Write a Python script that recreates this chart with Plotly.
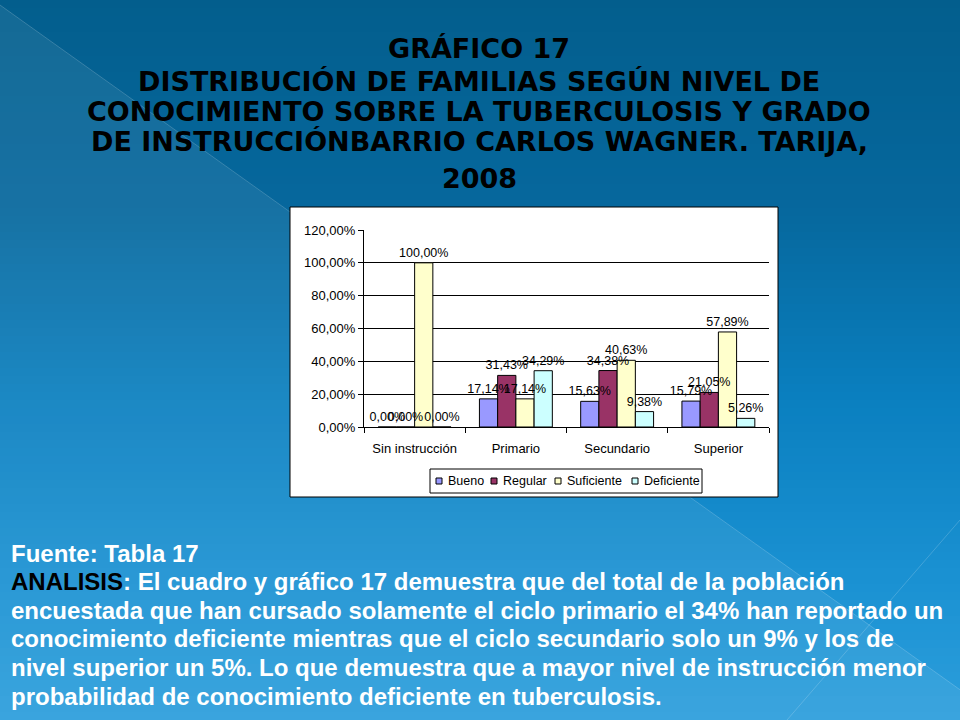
import plotly.graph_objects as go

# ---- data ----
categories = ["Sin instrucción", "Primario", "Secundario", "Superior"]
series_names = ["Bueno", "Regular", "Suficiente", "Deficiente"]
bueno = [0.0, 0.1714, 0.1563, 0.1579]
regular = [0.0, 0.3143, 0.3438, 0.2105]
suficiente = [1.0, 0.1714, 0.4063, 0.5789]
deficiente = [0.0, 0.3429, 0.0938, 0.0526]
series_values = [bueno, regular, suficiente, deficiente]
series_colors = ["#9999FF", "#993366", "#FFFFCC", "#CCFFFF"]
y_ticks = [0, 0.2, 0.4, 0.6, 0.8, 1.0, 1.2]

title_lines = [
    "GRÁFICO 17",
    "DISTRIBUCIÓN DE FAMILIAS SEGÚN NIVEL DE",
    "CONOCIMIENTO SOBRE LA TUBERCULOSIS Y GRADO",
    "DE INSTRUCCIÓNBARRIO CARLOS WAGNER. TARIJA,",
    "2008",
]
body_lines = [
    "Fuente: Tabla 17",
    "<span style='color:#000000'>ANALISIS</span>: El cuadro y gráfico 17 demuestra que del total de la población",
    "encuestada que han cursado solamente el ciclo primario el 34% han reportado un",
    "conocimiento deficiente mientras que el ciclo secundario solo un 9% y los de",
    "nivel superior un 5%. Lo que demuestra que a mayor nivel de instrucción menor",
    "probabilidad de conocimiento deficiente en tuberculosis.",
]

W, H = 960, 720
FONT = "Liberation Sans, Arial"

fig = go.Figure()
# bars
for name, vals, col in zip(series_names, series_values, series_colors):
    fig.add_trace(go.Bar(
        name=name, x=categories, y=vals, offsetgroup=name,
        marker=dict(color=col, line=dict(color="#000000", width=1)),
        showlegend=False, hoverinfo="skip",
    ))
# data labels drawn on top of every bar
for name, vals in zip(series_names, series_values):
    fig.add_trace(go.Bar(
        name=name, x=categories, y=vals, offsetgroup=name,
        marker=dict(color="rgba(0,0,0,0)", line=dict(width=0)),
        texttemplate="%{y:.2%}", textposition="outside",
        constraintext="none", cliponaxis=False,
        textfont=dict(family=FONT, size=12.5, color="#000000"),
        showlegend=False, hoverinfo="skip",
    ))

# ---- background gradient strips ----
stops = [(0.0, (3, 94, 141)), (0.3, (6, 104, 158)), (0.55, (10, 127, 191)),
         (0.8, (26, 145, 210)), (1.0, (44, 158, 220))]

def col_at(t):
    for (t0, c0), (t1, c1) in zip(stops[:-1], stops[1:]):
        if t <= t1:
            f = (t - t0) / (t1 - t0)
            return "rgb(%d,%d,%d)" % tuple(round(a + (b - a) * f) for a, b in zip(c0, c1))
    return "rgb(%d,%d,%d)" % stops[-1][1]

shapes = []
n = 90
for i in range(n):
    t = (i + 0.5) / n
    shapes.append(dict(type="rect", xref="paper", yref="paper", x0=0, x1=1,
                       y0=1 - (i + 1) / n - 0.002, y1=1 - i / n,
                       fillcolor=col_at(t), line=dict(width=0), layer="below"))
# lighter diagonal region and faint decorative lines
shapes.append(dict(type="path", xref="paper", yref="paper",
                   path="M 0,0.993 L 1,0.042 L 1,0 L 0,0 Z",
                   fillcolor="rgba(255,255,255,0.07)", line=dict(width=0), layer="below"))
shapes.append(dict(type="line", xref="paper", yref="paper", x0=0, y0=0.993, x1=1, y1=0.042,
                   line=dict(color="rgba(255,255,255,0.18)", width=1), layer="below"))
shapes.append(dict(type="line", xref="paper", yref="paper", x0=1, y0=1 - 520 / H, x1=787 / W, y1=0,
                   line=dict(color="rgba(255,255,255,0.18)", width=1), layer="below"))
# white chart box
shapes.append(dict(type="rect", xref="paper", yref="paper",
                   x0=290 / W, x1=778 / W, y0=1 - 497 / H, y1=1 - 207 / H,
                   fillcolor="#FFFFFF", line=dict(color="#000000", width=1), layer="below"))

annotations = []
title_y = [49, 81, 111, 142, 178]
for txt, yy in zip(title_lines, title_y):
    annotations.append(dict(text=txt, x=479 / W, y=1 - yy / H, xref="paper", yref="paper",
                            xanchor="center", yanchor="middle", showarrow=False,
                            font=dict(family="DejaVu Sans", size=27, color="#000000", weight="bold")))
body_y = [553, 581.5, 610, 638.5, 667, 696]
for txt, yy in zip(body_lines, body_y):
    annotations.append(dict(text=txt, x=9 / W, y=1 - yy / H, xref="paper", yref="paper",
                            xanchor="left", yanchor="middle", showarrow=False, align="left",
                            font=dict(family=FONT, size=24, color="#FFFFFF", weight="bold")))

# ---- legend box (drawn as a compact Excel-style legend) ----
legend_symbol_x = [436, 491, 555, 632]
legend_cy = 481
shapes.append(dict(type="rect", xref="paper", yref="paper",
                   x0=430 / W, x1=702 / W, y0=1 - 493 / H, y1=1 - 469 / H,
                   fillcolor="#FFFFFF", line=dict(color="#000000", width=1), layer="above"))
for name, col, sx in zip(series_names, series_colors, legend_symbol_x):
    shapes.append(dict(type="rect", xref="paper", yref="paper",
                       x0=sx / W, x1=(sx + 6) / W, y0=1 - (legend_cy + 3) / H, y1=1 - (legend_cy - 3) / H,
                       fillcolor=col, line=dict(color="#000000", width=1), layer="above"))
    annotations.append(dict(text=name, x=(sx + 10) / W, y=1 - legend_cy / H, xref="paper", yref="paper",
                            xanchor="left", yanchor="middle", showarrow=False,
                            font=dict(family=FONT, size=12.5, color="#000000")))

fig.update_layout(
    width=W, height=H, autosize=False,
    margin=dict(l=0, r=0, t=0, b=0, pad=0, autoexpand=False),
    paper_bgcolor="rgb(3,94,141)", plot_bgcolor="rgba(0,0,0,0)",
    separators=",.",
    barmode="group", bargap=0.28, bargroupgap=0,
    shapes=shapes, annotations=annotations,
    showlegend=False,
    xaxis=dict(domain=[364 / W, 769 / W], showline=True, linecolor="#000000", linewidth=1,
               ticks="outside", tickson="boundaries", ticklen=5, tickcolor="#000000",
               ticklabelstandoff=9, automargin=False,
               tickfont=dict(family=FONT, size=13, color="#000000"),
               showgrid=False, fixedrange=True),
    yaxis=dict(domain=[1 - 427 / H, 1 - 230 / H], range=[0, 1.2], tickvals=y_ticks,
               tickformat=".2%", showline=True, linecolor="#000000", linewidth=1,
               ticks="outside", ticklen=5, tickcolor="#000000", automargin=False,
               showgrid=True, gridcolor="#000000", gridwidth=1, zeroline=False,
               tickfont=dict(family=FONT, size=13, color="#000000"),
               fixedrange=True),
)

fig.write_html("out.html", config={"displayModeBar": False},
               post_script="document.body.style.margin='0';document.documentElement.style.overflow='hidden';")
